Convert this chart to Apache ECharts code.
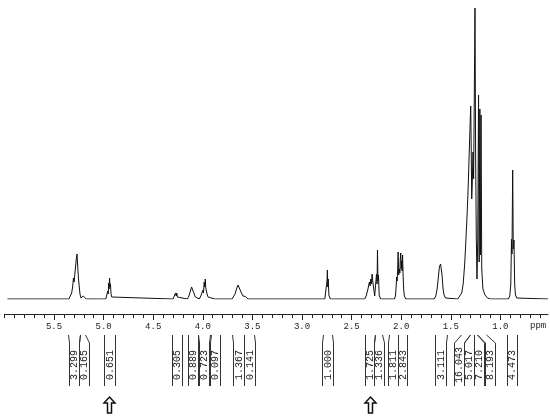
<!DOCTYPE html>
<html>
<head>
<meta charset="utf-8">
<script src="https://cdn.jsdelivr.net/npm/echarts@6/dist/echarts.min.js"></script>
<style>
  html, body { margin: 0; padding: 0; background: #fff; }
  #chart { width: 550px; height: 419px; }
</style>
</head>
<body>
<div id="chart"></div>
<script>
// trace, [ppm, intensity]
var olefinicTrace = [
  [5.97,0],[5.60,0],[5.45,0],[5.35,0],[5.335,2],[5.322,6],[5.312,12],[5.304,21],[5.297,17],
  [5.290,25],[5.281,34],[5.274,41],[5.268,45],[5.263,36],[5.258,28],[5.252,19],[5.246,13],
  [5.238,5],[5.228,1],[5.215,1],[5.206,3],[5.199,3],[5.19,1],[5.175,0],[5.04,0],[5.03,1],[5.02,0],
  [4.978,0],[4.965,2],[4.958,8],[4.953,5],[4.949,16],[4.945,10],[4.940,21],[4.935,12],
  [4.931,15],[4.925,5],[4.918,2],[4.905,0]
];
var glycerolTrace = [
  [4.30,0],[4.285,2],[4.275,6],[4.268,3],[4.262,6],[4.256,2],[4.245,0],
  [4.155,0],[4.14,3],[4.125,8],[4.113,12],[4.106,13],[4.10,11],[4.09,6],[4.075,2],[4.06,0],
  [4.035,0],[4.02,3],[4.01,1],[4.005,1],[3.998,9],[3.993,6],[3.986,17],[3.981,12],[3.975,20],
  [3.970,11],[3.963,13],[3.957,5],[3.947,2],[3.935,0],
  [3.88,0],[3.87,2],[3.86,0],
  [3.705,0],[3.69,2],[3.675,5],[3.66,10],[3.645,14],[3.635,15],[3.625,12],[3.61,6],
  [3.595,3],[3.583,2],[3.57,2.5],[3.555,1],[3.545,0]
];
var midTrace = [
  [2.77,0],[2.755,2],[2.748,18],[2.744,29],[2.740,12],[2.735,20],[2.729,4],[2.715,0],
  [2.368,0],[2.353,3],[2.335,10],[2.321,17],[2.313,13],[2.306,20],[2.300,15],[2.293,25],
  [2.287,18],[2.281,20],[2.275,9],[2.267,3],[2.260,4],[2.249,25],[2.243,15],[2.239,49],
  [2.234,18],[2.229,24],[2.222,4],[2.208,0],
  [2.068,0],[2.058,3],[2.051,12],[2.046,22],[2.041,18],[2.035,30],[2.031,47],[2.025,24],
  [2.019,30],[2.013,26],[2.009,40],[2.004,46],[1.999,30],[1.996,38],[1.991,28],[1.986,44],
  [1.981,25],[1.975,10],[1.968,3],[1.953,0]
];
var aliphaticTrace = [
  [1.668,0],[1.651,3],[1.638,10],[1.625,22],[1.615,32],[1.603,35],[1.598,34],[1.588,24],
  [1.578,10],[1.568,4],[1.553,1],[1.533,0],
  [1.43,0],[1.41,2],[1.39,6],[1.375,15],[1.36,35],[1.352,50],[1.335,85],[1.323,117],
  [1.310,160],[1.299,193],[1.294,150],[1.289,100],[1.284,113],[1.276,147],[1.270,120],
  [1.263,200],[1.256,291],[1.250,150],[1.243,64],[1.236,20],[1.228,60],[1.220,204],
  [1.214,37],[1.207,190],[1.201,44],[1.195,184],[1.188,30],[1.176,10],[1.155,4],[1.13,1],[1.10,0],
  [0.92,0],[0.905,3],[0.895,15],[0.888,60],[0.883,45],[0.876,129],[0.870,50],[0.863,59],
  [0.856,15],[0.848,4],[0.835,1],[0.82,0],[0.52,0]
];

// integrals: value, region (ppm, left->right) and where the label sits
var integralValues = ['3.299','0.165','0.651','0.305','0.889','0.723','0.097','1.367','0.141','1.000',
  '1.725','1.336','1.811','2.843','3.111','16.043','5.017','7.210','8.193','4.473'];
var integralFrom = [5.359,5.238,4.996,4.314,4.152,4.045,3.917,3.706,3.582,2.788,
  2.365,2.264,2.123,2.032,1.659,1.397,1.307,1.271,1.236,0.933];
var integralTo = [5.238,5.188,4.885,4.205,4.045,3.927,3.827,3.582,3.484,2.698,
  2.264,2.193,2.032,1.941,1.538,1.307,1.271,1.236,1.145,0.832];
var integralLabelAt = [5.298,5.196,4.939,4.260,4.099,3.988,3.877,3.642,3.531,2.741,
  2.314,2.229,2.080,1.991,1.602,1.417,1.323,1.216,1.106,0.884];

var arrowAt = [4.946, 2.314];
var majorTicks = [5.5, 5.0, 4.5, 4.0, 3.5, 3.0, 2.5, 2.0, 1.5, 1.0];
var minorTicks = [];
for (var t = 6.0; t > 0.55; t -= 0.1) minorTicks.push(Math.round(t * 10) / 10);

var trace = olefinicTrace.concat(glycerolTrace, midTrace, aliphaticTrace);

var chart = echarts.init(document.getElementById('chart'));
var monoFont = '"Liberation Mono", "DejaVu Sans Mono", monospace';

chart.setOption({
  animation: false,
  grid: { left: 4.4, right: 2, top: 5, bottom: 120 },
  xAxis: [{
    type: 'value', inverse: true, min: 0.52, max: 6.0, offset: 15,
    axisLine: { onZero: false, lineStyle: { color: '#222', width: 1 } },
    axisTick: { customValues: majorTicks, length: 6, lineStyle: { color: '#222' } },
    axisLabel: {
      customValues: majorTicks, margin: 8,
      formatter: function (v) { return v.toFixed(1); },
      fontFamily: monoFont, fontSize: 9, color: '#222'
    },
    splitLine: { show: false }
  }, {
    type: 'value', inverse: true, min: 0.52, max: 6.0, offset: 15, position: 'bottom',
    axisLine: { show: false, onZero: false },
    axisTick: { customValues: minorTicks, length: 4, lineStyle: { color: '#222' } },
    axisLabel: { show: false },
    splitLine: { show: false }
  }],
  yAxis: { type: 'value', min: 0, max: 294, show: false },
  series: [{
    type: 'line', data: trace, showSymbol: false, silent: true,
    lineStyle: { color: '#111', width: 1 }
  }]
});

// integral brackets, labels, arrows
function px(ppm) { return chart.convertToPixel({ xAxisIndex: 0 }, ppm); }
var g = [];
var topY = 335, bendY = 343, bottomY = 386, halfW = 5.3;
var centers = integralLabelAt.map(px);
for (var i = 0; i < integralValues.length; i++) {
  var c = centers[i];
  var l = c - halfW, r = c + halfW;
  if (i > 0 && c - centers[i - 1] < 2 * halfW) l = (c + centers[i - 1]) / 2;
  if (i < centers.length - 1 && centers[i + 1] - c < 2 * halfW) r = (c + centers[i + 1]) / 2;
  l = Math.round(l) + 0.5; r = Math.round(r) + 0.5;
  var a = Math.round(px(integralFrom[i])) + 0.5, b = Math.round(px(integralTo[i])) + 0.5;
  g.push({ type: 'polyline', shape: { points: [[a, topY], [l, bendY], [l, bottomY]] },
    style: { stroke: '#333', lineWidth: 1, fill: null } });
  g.push({ type: 'polyline', shape: { points: [[b, topY], [r, bendY], [r, bottomY]] },
    style: { stroke: '#333', lineWidth: 1, fill: null } });
  g.push({ type: 'text', x: (l + r) / 2, y: 365, rotation: Math.PI / 2,
    style: { text: integralValues[i], font: '10px ' + monoFont, fill: '#222',
      align: 'center', verticalAlign: 'middle' } });
}
arrowAt.forEach(function (p) {
  var x = Math.round(px(p)) + 0.5, y = 397;
  g.push({ type: 'polygon',
    shape: { points: [[x, y], [x + 5.5, y + 6], [x + 2, y + 6], [x + 2, y + 16],
      [x - 2, y + 16], [x - 2, y + 6], [x - 5.5, y + 6]] },
    style: { fill: '#fff', stroke: '#111', lineWidth: 1.5 } });
});
g.push({ type: 'text', x: px(0.62), y: 326,
  style: { text: 'ppm', font: '9px ' + monoFont, fill: '#222', align: 'center', verticalAlign: 'middle' } });
chart.setOption({ graphic: g });
</script>
</body>
</html>
